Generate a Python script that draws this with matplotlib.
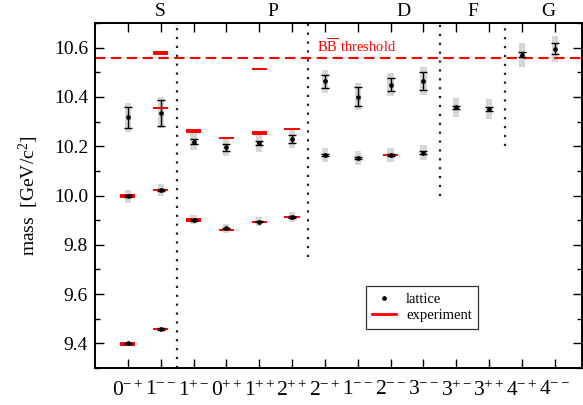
import matplotlib
matplotlib.use("Agg")
import matplotlib.pyplot as plt
from matplotlib.ticker import MultipleLocator, FixedLocator
from matplotlib.lines import Line2D
import matplotlib.transforms as mtransforms

plt.rcParams['font.family'] = ['Liberation Serif', 'DejaVu Serif']
plt.rcParams['mathtext.fontset'] = 'custom'
plt.rcParams['mathtext.rm'] = 'Liberation Serif'
plt.rcParams['mathtext.it'] = 'Liberation Serif:italic'
plt.rcParams['mathtext.bf'] = 'Liberation Serif:bold'

# ---- data ----
channel_J = ['0', '1', '1', '0', '1', '2', '2', '1', '2', '3', '3', '3', '4', '4']
channel_PC = ['-+', '--', '+-', '++', '++', '++', '-+', '--', '--', '--', '+-', '++', '-+', '--']
wave_labels = ['S', 'P', 'D', 'F', 'G']
wave_label_x = [2.0, 5.4, 9.4, 11.5, 13.8]

# lattice results: channel index (1-based), mass, statistical error, systematic error
lat_x = [1, 1, 1, 2, 2, 2, 3, 3, 4, 4, 5, 5, 6, 6, 7, 7, 8, 8, 9, 9, 10, 10, 11, 12, 13, 14]
lat_mass = [9.400, 9.997, 10.317, 9.458, 10.022, 10.336, 9.901, 10.219, 9.867, 10.195,
            9.894, 10.213, 9.913, 10.230, 10.165, 10.463, 10.151, 10.401, 10.163, 10.450,
            10.174, 10.464, 10.358, 10.351, 10.571, 10.595]
lat_stat = [0.003, 0.004, 0.042, 0.003, 0.005, 0.052, 0.003, 0.011, 0.003, 0.014,
            0.003, 0.010, 0.003, 0.016, 0.004, 0.027, 0.004, 0.039, 0.004, 0.026,
            0.005, 0.037, 0.007, 0.007, 0.010, 0.022]
lat_sys = [0.005, 0.026, 0.059, 0.005, 0.024, 0.062, 0.018, 0.033, 0.018, 0.033,
           0.017, 0.035, 0.020, 0.036, 0.029, 0.048, 0.029, 0.056, 0.029, 0.046,
           0.030, 0.058, 0.038, 0.039, 0.048, 0.052]

# experiment
exp_x = [1, 1, 2, 2, 2, 2, 3, 3, 4, 4, 5, 5, 5, 6, 6, 9]
exp_mass = [9.399, 9.999, 9.460, 10.023, 10.355, 10.579, 9.899, 10.260, 9.859, 10.232,
            9.893, 10.255, 10.512, 9.912, 10.269, 10.164]
exp_thick = [True, True, False, False, False, True, True, True, False, False,
             False, True, False, False, False, False]

threshold_BB = 10.559

# separators: x position, lower end in mass
sep_x = [2.5, 6.5, 10.5, 12.5]
sep_ymin = [9.3, 9.75, 10.0, 10.2]

# ---- figure ----
fig = plt.figure(figsize=(5.83, 4.05), dpi=100)
ax = fig.add_axes([95 / 583, 1 - 368 / 405, 487 / 583, 345 / 405])
ax.set_xlim(0, 14.83)
ax.set_ylim(9.3, 10.7)

red = '#ff0000'
# systematic boxes
for x, m, s in zip(lat_x, lat_mass, lat_sys):
    ax.bar(x, 2 * s, bottom=m - s, width=0.19, color='#d6d6d6', zorder=1, linewidth=0)

# experimental lines
for x, m, t in zip(exp_x, exp_mass, exp_thick):
    ax.hlines(m, x - 0.23, x + 0.23, colors=red, linewidth=2.8 if t else 1.4, zorder=2)

# stat error bars and dots
ax.errorbar(lat_x, lat_mass, yerr=lat_stat, fmt='none', ecolor='black', elinewidth=1.0,
            capsize=2.6, capthick=1.0, zorder=3)
ax.plot(lat_x, lat_mass, 'o', color='black', markersize=2.4, zorder=4)

# threshold
ax.axhline(threshold_BB, color=red, linestyle=(0, (5, 2.6)), linewidth=1.5, zorder=2)
ax.text(6.76, 10.578, r'B$\overline{\mathrm{B}}$ threshold', color=red, fontsize=10.5,
        ha='left', va='baseline')

# separators
for x, y0 in zip(sep_x, sep_ymin):
    ax.plot([x, x], [y0, 10.7], color='#222222', linestyle=(0, (1, 3.0)), linewidth=1.6,
            zorder=1, clip_on=False, solid_capstyle='butt', dash_capstyle='butt')

# ticks
ax.xaxis.set_major_locator(FixedLocator(range(1, len(channel_J) + 1)))
ax.set_xticklabels([r'$%s^{%s}$' % (j, pc) for j, pc in zip(channel_J, channel_PC)],
                   fontsize=15.5)
ax.yaxis.set_minor_locator(MultipleLocator(0.1))
ax.set_yticks([9.4, 9.6, 9.8, 10.0, 10.2, 10.4, 10.6])
ax.set_yticklabels(['9.4', '9.6', '9.8', '10.0', '10.2', '10.4', '10.6'], fontsize=14)
ax.tick_params(axis='both', which='major', direction='in', length=6.5, width=1.0,
               top=True, right=True)
ax.tick_params(axis='y', which='minor', direction='in', length=3.5, width=1.0, right=True)
ax.tick_params(axis='x', which='major', pad=9)
ax.tick_params(axis='y', which='major', pad=5)
for sp in ax.spines.values():
    sp.set_linewidth(1.4)

ax.set_ylabel(r'mass  [GeV/c$^2$]', fontsize=14, labelpad=9)

# wave labels on top
trans = mtransforms.blended_transform_factory(ax.transData, fig.transFigure)
for lab, x in zip(wave_labels, wave_label_x):
    fig.text(x, 1 - 12 / 405, lab, transform=trans, ha='center', va='center', fontsize=14)

# legend
handles = [Line2D([], [], marker='o', color='black', linestyle='none', markersize=2.4),
           Line2D([], [], color=red, linewidth=2)]
leg = ax.legend(handles, ['lattice', 'experiment'], loc='upper left',
                bbox_to_anchor=(0.556, 0.237), fontsize=10.5, frameon=True, fancybox=False,
                handlelength=1.6, handletextpad=0.7, borderpad=0.45, labelspacing=0.2,
                borderaxespad=0)
leg.get_frame().set_edgecolor('black')
leg.get_frame().set_linewidth(0.9)

fig.savefig('out.png', dpi=100)
